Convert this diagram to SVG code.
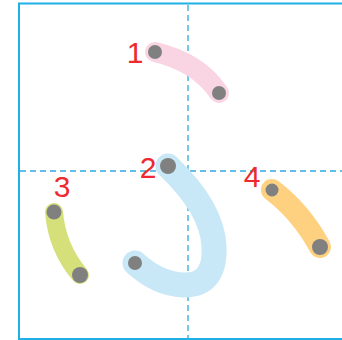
<svg xmlns="http://www.w3.org/2000/svg" width="342" height="340" viewBox="0 0 342 340">
<style>
.guide{stroke:#2eaadf;stroke-width:1.3;stroke-dasharray:6 4;fill:none}
.stroke{fill:none;stroke-linecap:round}
.dot{fill:#808080}
.num{font-family:"Liberation Sans",Arial,sans-serif;font-size:30px;fill:#ee2a2e}
</style>
<rect x="0" y="0" width="342" height="340" fill="#ffffff"/>
<g id="frame">
<rect x="19" y="3.5" width="340" height="335.5" fill="none" stroke="#1fb0e6" stroke-width="2"/>
<line class="guide" x1="188" y1="5" x2="188" y2="338"/>
<line class="guide" x1="20" y1="171" x2="342" y2="171"/>
</g>
<g id="stroke1">
<path class="stroke" d="M155,52 Q198,62 219,93" stroke="#f9d5e4" stroke-width="20"/>
<circle class="dot" cx="155" cy="52" r="7"/>
<circle class="dot" cx="219" cy="93" r="7"/>
<text class="num" x="135" y="63" text-anchor="middle">1</text>
</g>
<g id="stroke2">
<path class="stroke" d="M168,166 Q212,208 214,246 Q216,286 183,285 Q158,284 135,263" stroke="#c8e8f8" stroke-width="25"/>
<circle class="dot" cx="168" cy="166" r="8"/>
<circle class="dot" cx="135" cy="263" r="7"/>
<text class="num" x="148" y="178" text-anchor="middle">2</text>
</g>
<g id="stroke3">
<path class="stroke" d="M54,212 Q57,248 80,275" stroke="#d6e07a" stroke-width="18"/>
<circle class="dot" cx="54" cy="212" r="7.5"/>
<circle class="dot" cx="80" cy="275" r="8"/>
<text class="num" x="62" y="197" text-anchor="middle">3</text>
</g>
<g id="stroke4">
<path class="stroke" d="M272,190 Q301,212 320,247" stroke="#fdd17f" stroke-width="22"/>
<circle class="dot" cx="272" cy="190" r="6.5"/>
<circle class="dot" cx="320" cy="247" r="8"/>
<text class="num" x="252" y="187" text-anchor="middle" font-size="28">4</text>
</g>
</svg>
